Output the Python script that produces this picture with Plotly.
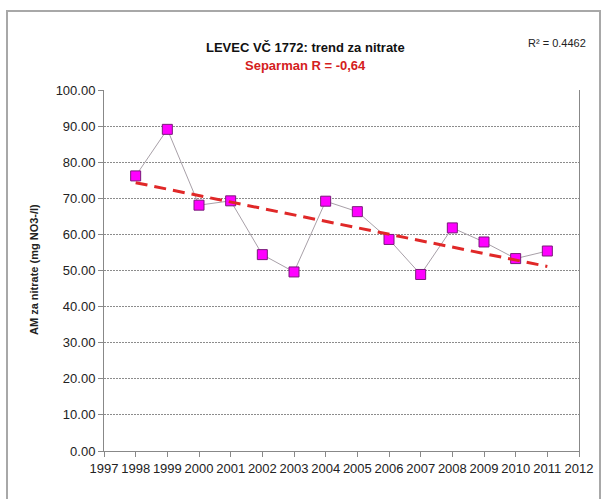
import numpy as np
import plotly.graph_objects as go

years = [1998, 1999, 2000, 2001, 2002, 2003, 2004, 2005, 2006, 2007, 2008, 2009, 2010, 2011]
nitrate = [76.2, 89.1, 68.1, 69.3, 54.4, 49.6, 69.2, 66.3, 58.6, 48.9, 61.8, 57.9, 53.3, 55.4]
title_text = "LEVEC VČ 1772: trend za nitrate"
subtitle_text = "Separman R = -0,64"
r2_text = "R² = 0.4462"
y_title = "AM za nitrate (mg NO3-/l)"

coef = np.polyfit(years, nitrate, 1)
trend = np.polyval(coef, years)

FONT = "Liberation Sans, Arial, sans-serif"

L, R, T, B = 104, 25, 90, 48
W, H = 604, 499
pw = W - L - R
ph = H - T - B


def px(x):
    return (x - L) / pw


def py(y):
    # y measured from top of the image in pixels
    return (H - y - B) / ph


fig = go.Figure()
fig.add_trace(go.Scatter(
    x=years, y=nitrate, mode="lines+markers",
    line=dict(color="#A8A0A8", width=1),
    marker=dict(symbol="square", size=10, color="#FF00FF",
                line=dict(color="#7A1A7A", width=1)),
    showlegend=False))
fig.add_trace(go.Scatter(
    x=[years[0], years[-1]], y=[trend[0], trend[-1]], mode="lines",
    line=dict(color="#E02828", width=3, dash="12px,7px"),
    showlegend=False))

fig.update_layout(
    width=W, height=H,
    margin=dict(l=L, r=R, t=T, b=B),
    paper_bgcolor="white", plot_bgcolor="white",
    font=dict(family=FONT, color="#222222"),
    xaxis=dict(range=[1997, 2012], tick0=1997, dtick=1, showgrid=False,
               showline=True, linecolor="#888888", linewidth=1,
               ticks="outside", ticklen=5, tickcolor="#888888", tickangle=0,
               tickfont=dict(size=13, color="#222222"), zeroline=False,
               automargin=False),
    yaxis=dict(range=[0, 100], dtick=10, tickformat=".2f",
               showgrid=True, gridcolor="#8C8C8C", griddash="2px,1px", gridwidth=1,
               showline=True, linecolor="#888888", linewidth=1, mirror=True,
               ticks="outside", ticklen=5, tickcolor="#888888",
               tickfont=dict(size=13, color="#222222"), zeroline=False,
               automargin=False),
    annotations=[
        dict(text="<b>" + title_text + "</b>", x=px(305), y=py(47), xref="paper", yref="paper",
             showarrow=False, font=dict(size=13, color="#111111"), xanchor="center", yanchor="middle"),
        dict(text="<b>" + subtitle_text + "</b>", x=px(305), y=py(66), xref="paper", yref="paper",
             showarrow=False, font=dict(size=13, color="#D42020"), xanchor="center", yanchor="middle"),
        dict(text=r2_text, x=px(557), y=py(43), xref="paper", yref="paper",
             showarrow=False, font=dict(size=11, color="#222222"), xanchor="center", yanchor="middle"),
        dict(text="<b>" + y_title + "</b>", x=px(34), y=py(270), xref="paper", yref="paper",
             showarrow=False, textangle=-90, font=dict(size=11, color="#222222"),
             xanchor="center", yanchor="middle"),
    ],
    shapes=[dict(type="rect", xref="paper", yref="paper",
                 x0=px(7), x1=px(600), y0=py(520), y1=py(11),
                 line=dict(color="#A8A8A8", width=2))],
)

fig.write_html("out.html", config={"displayModeBar": False},
               post_script="document.body.style.margin='0';document.body.style.overflow='hidden';")
